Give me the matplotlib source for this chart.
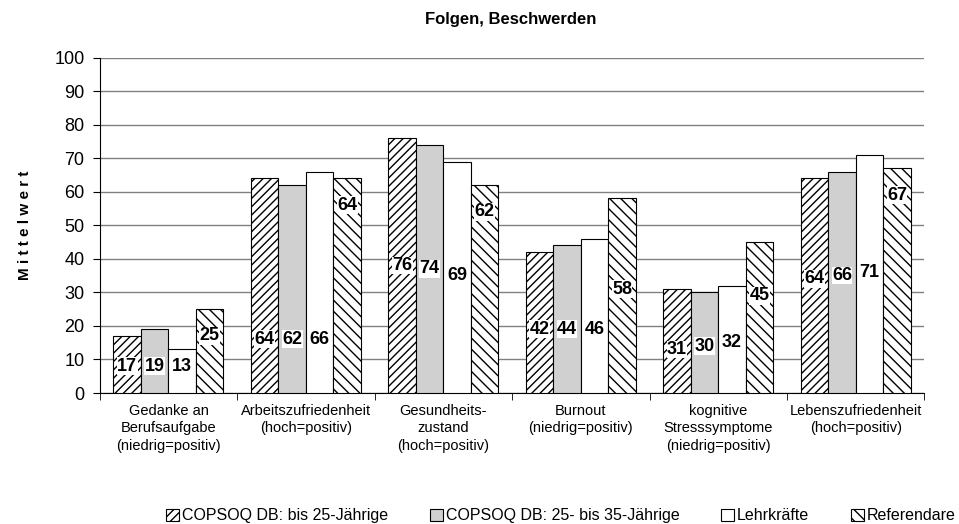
import numpy as np
import matplotlib
matplotlib.use("Agg")
import matplotlib.pyplot as plt

plt.rcParams['font.family'] = ['Liberation Sans', 'DejaVu Sans']
plt.rcParams['hatch.linewidth'] = 1.0

# Daten
kategorien = ['Gedanke an\nBerufsaufgabe\n(niedrig=positiv)',
              'Arbeitszufriedenheit\n(hoch=positiv)',
              'Gesundheits-\nzustand\n(hoch=positiv)',
              'Burnout\n(niedrig=positiv)',
              'kognitive\nStresssymptome\n(niedrig=positiv)',
              'Lebenszufriedenheit\n(hoch=positiv)']
serien = ['COPSOQ DB: bis 25-Jährige', 'COPSOQ DB: 25- bis 35-Jährige',
          'Lehrkräfte', 'Referendare']
bis25 = [17, 64, 76, 42, 31, 64]
bis35 = [19, 62, 74, 44, 30, 66]
lehrkraefte = [13, 66, 69, 46, 32, 71]
referendare = [25, 64, 62, 58, 45, 67]
werte = [bis25, bis35, lehrkraefte, referendare]

# Position der Beschriftungen (wie im Original manuell verschoben)
label_y = [[8, 16, 38, 19, 13, 34],
           [8, 16, 37, 19, 14, 35],
           [8, 16, 35, 19, 15, 36],
           [17, 56, 54, 31, 29, 59]]

stile = [dict(facecolor='white', hatch='////'),
         dict(facecolor='#d0d0d0', hatch=None),
         dict(facecolor='white', hatch=None),
         dict(facecolor='white', hatch='\\\\\\')]

fig = plt.figure(figsize=(9.59, 5.24), dpi=100)
ax = fig.add_axes([0.104, 0.25, 0.86, 0.64])

x = np.arange(len(kategorien))
breite = 0.2
for i, (name, vals) in enumerate(zip(serien, werte)):
    pos = x - 0.3 + i * breite
    ax.bar(pos, vals, breite, label=name, edgecolor='black', linewidth=0.8,
           zorder=3, **stile[i])
    for p, v, ly in zip(pos, vals, label_y[i]):
        ax.text(p, ly, str(v), ha='center', va='center', fontsize=13,
                fontweight='bold', zorder=4,
                bbox=dict(facecolor='white', edgecolor='none', pad=0.3))

ax.set_xlim(-0.5, len(kategorien) - 0.5)
ax.set_ylim(0, 100)
ax.set_yticks(range(0, 101, 10))
ax.yaxis.grid(True, color='#808080', linewidth=1, zorder=0)
ax.set_axisbelow(True)
ax.spines['top'].set_visible(False)
ax.spines['right'].set_visible(False)
ax.tick_params(axis='y', labelsize=13, length=5, direction='out', pad=6)
ax.set_xticks(x)
ax.set_xticklabels(kategorien, fontsize=10.5, linespacing=1.3)
ax.tick_params(axis='x', length=0, pad=8)
ax.set_xticks(np.arange(-0.5, len(kategorien), 1), minor=True)
ax.tick_params(axis='x', which='minor', length=5, direction='out')

ax.set_ylabel('M i t t e l w e r t', fontsize=11, fontweight='bold', labelpad=16)
fig.suptitle('Folgen, Beschwerden', fontsize=12, fontweight='bold', x=0.532, y=0.978)

fig.legend(loc='lower center', bbox_to_anchor=(0.585, -0.026), ncol=4, frameon=False,
           fontsize=11.5, handlelength=0.8, handleheight=0.8, handletextpad=0.2,
           columnspacing=2.6)

fig.savefig('out.png', dpi=100)
